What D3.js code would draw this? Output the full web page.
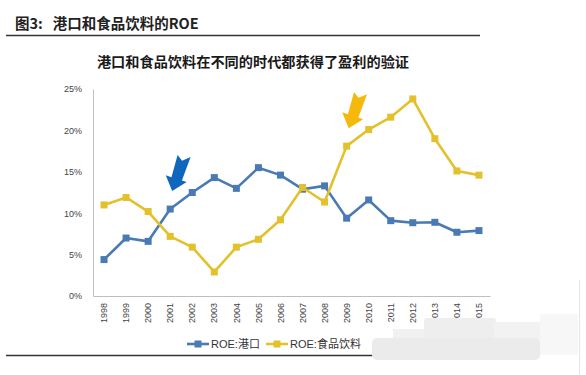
<!DOCTYPE html>
<html>
<head>
<meta charset="utf-8">
<script src="https://cdn.jsdelivr.net/npm/d3@7"></script>
<style>
  body { margin: 0; background: #fff; }
  svg { display: block; font-family: "Liberation Sans", Arial, "Noto Sans CJK SC", sans-serif; }
</style>
</head>
<body>
<svg id="chart"></svg>
<script>
// data
const years = ["1998","1999","2000","2001","2002","2003","2004","2005","2006",
  "2007","2008","2009","2010","2011","2012","2013","2014","2015"];
const portRoe = [4.4, 7.0, 6.6, 10.5, 12.5, 14.3, 13.0, 15.5, 14.6,
  12.9, 13.3, 9.4, 11.6, 9.1, 8.85, 8.9, 7.7, 7.9];
const foodRoe = [11.0, 11.9, 10.2, 7.2, 5.9, 2.9, 5.9, 6.85, 9.2,
  13.1, 11.35, 18.1, 20.1, 21.6, 23.8, 19.0, 15.1, 14.6];
const yTicks = [0, 5, 10, 15, 20, 25];
const seriesNames = ["ROE:港口", "ROE:食品饮料"];
// arrows point at these points
const arrowNotes = [
  {year: "2001", series: 0, color: "#0e67bd"},
  {year: "2009", series: 1, color: "#f6b90b"}
];

const W = 586, H = 375;
const colors = ["#4a7ab4", "#e2c12c"];

const svg = d3.select("#chart").attr("width", W).attr("height", H);

// header
svg.append("text")
  .attr("x", 15).attr("y", 29)
  .attr("font-family", "'Noto Sans CJK SC', sans-serif")
  .attr("font-weight", "bold").attr("font-size", 14.5)
  .attr("fill", "#222")
  .text("图3:\u00a0\u00a0\u00a0港口和食品饮料的ROE");
svg.append("line")
  .attr("x1", 6).attr("x2", 480).attr("y1", 35.5).attr("y2", 35.5)
  .attr("stroke", "#333").attr("stroke-width", 1.5);

// chart title
svg.append("text")
  .attr("x", 253).attr("y", 67)
  .attr("text-anchor", "middle")
  .attr("font-family", "'Noto Sans CJK SC', sans-serif")
  .attr("font-weight", "bold").attr("font-size", 14.2)
  .attr("fill", "#1a1a1a")
  .text("港口和食品饮料在不同的时代都获得了盈利的验证");

const x = d3.scaleBand().domain(years).range([93, 490]);
const y = d3.scaleLinear().domain([0, 25]).range([296, 89]);

// y axis
const yAxis = svg.append("g")
  .attr("transform", "translate(93,0)")
  .call(d3.axisLeft(y).tickValues(yTicks).tickSize(0).tickPadding(11)
    .tickFormat(d => d + "%"));
yAxis.select(".domain").attr("stroke", "#bfbfbf");
yAxis.selectAll("text").attr("font-size", 9).attr("fill", "#444");

// x axis
const xAxis = svg.append("g")
  .attr("transform", "translate(0,296)")
  .call(d3.axisBottom(x).tickSize(0).tickSizeOuter(0));
xAxis.select(".domain").attr("stroke", "#bfbfbf");
xAxis.selectAll("text")
  .attr("font-size", 9).attr("fill", "#444")
  .attr("transform", "rotate(-90)")
  .attr("text-anchor", "end")
  .attr("x", -7).attr("y", 0).attr("dy", "0.35em");

const seriesData = [portRoe, foodRoe];
const line = d3.line()
  .x((d, i) => x(years[i]) + x.bandwidth() / 2)
  .y(d => y(d));

seriesData.forEach((vals, s) => {
  svg.append("path")
    .datum(vals)
    .attr("d", line)
    .attr("fill", "none")
    .attr("stroke", colors[s])
    .attr("stroke-width", 2.6)
    .attr("stroke-linejoin", "round");
  svg.append("g").selectAll("rect")
    .data(vals)
    .join("rect")
      .attr("x", (d, i) => x(years[i]) + x.bandwidth() / 2 - 3.5)
      .attr("y", d => y(d) - 3.5)
      .attr("width", 7).attr("height", 7)
      .attr("fill", colors[s]);
});

// block arrows, drawn pointing down then tilted
const arrowShape = "M0,0 L-11,-13 L-5,-13 L-6,-36 L0,-32 L7,-38 L6,-13 L11,-13 Z";
arrowNotes.forEach(a => {
  const v = seriesData[a.series][years.indexOf(a.year)];
  const tx = x(a.year) + x.bandwidth() / 2 + 2;
  const ty = y(v) - 18;
  svg.append("path")
    .attr("d", arrowShape)
    .attr("transform", `translate(${tx},${ty}) rotate(18)`)
    .attr("fill", a.color);
});

// legend
const legend = svg.append("g").attr("transform", "translate(187,344)");
const legX = [0, 79];
seriesNames.forEach((name, s) => {
  const g = legend.append("g").attr("transform", `translate(${legX[s]},0)`);
  g.append("line").attr("x1", 0).attr("x2", 22).attr("y1", 0).attr("y2", 0)
    .attr("stroke", colors[s]).attr("stroke-width", 2.6);
  g.append("rect").attr("x", 7.5).attr("y", -3.5).attr("width", 7).attr("height", 7)
    .attr("fill", colors[s]);
  g.append("text").attr("x", 24).attr("y", 0).attr("dy", "0.36em")
    .attr("font-size", 11).attr("fill", "#333")
    .text(name);
});

// bottom rule
svg.append("line")
  .attr("x1", 6).attr("x2", 480).attr("y1", 355.5).attr("y2", 355.5)
  .attr("stroke", "#333").attr("stroke-width", 1.5);

// blurred watermark patch
const patch = svg.append("g");
patch.append("rect").attr("x", 540).attr("y", 314).attr("width", 38).attr("height", 41)
  .attr("fill", "#f7f7f7");
patch.append("rect").attr("x", 393).attr("y", 329).attr("width", 40).attr("height", 12)
  .attr("fill", "#f1f1f1");
patch.append("rect").attr("x", 424).attr("y", 318).attr("width", 72).attr("height", 23)
  .attr("rx", 3).attr("fill", "#eeeeee");
patch.append("rect").attr("x", 494).attr("y", 322).attr("width", 46).attr("height", 19)
  .attr("fill", "#f2f2f2");
patch.append("rect").attr("x", 372).attr("y", 338).attr("width", 168).attr("height", 22)
  .attr("rx", 5).attr("fill", "#ebebeb");
svg.append("line")
  .attr("x1", 579.5).attr("x2", 579.5).attr("y1", 280).attr("y2", 375)
  .attr("stroke", "#e6e6e6");
</script>
</body>
</html>
